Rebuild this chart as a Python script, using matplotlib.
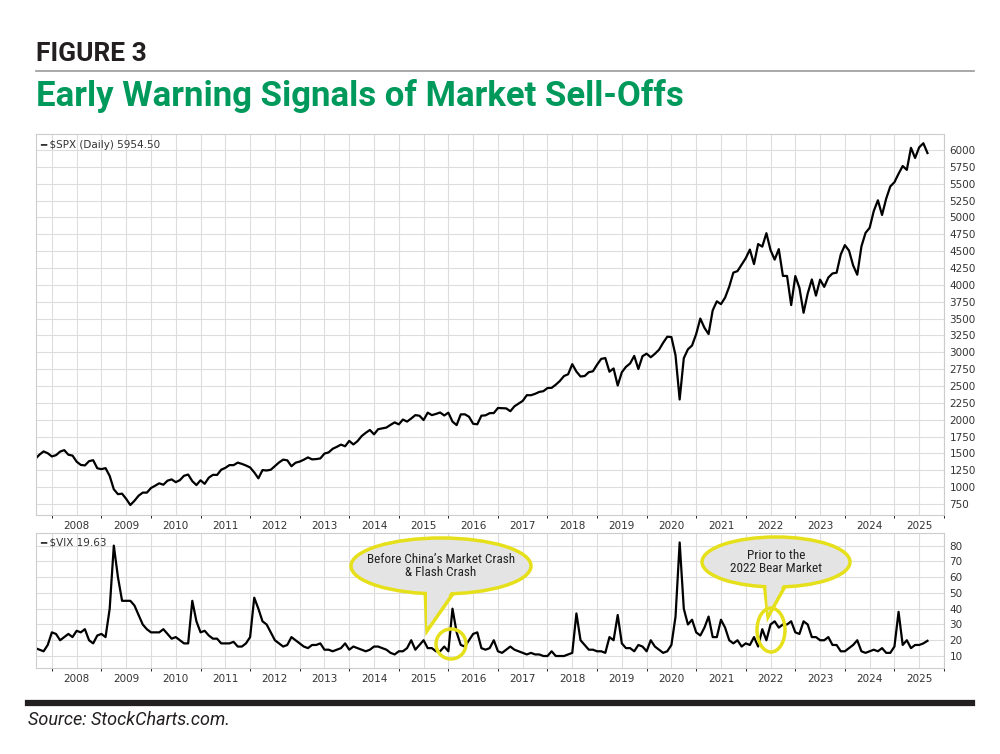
import numpy as np
import matplotlib
matplotlib.use("Agg")
import matplotlib.pyplot as plt
from matplotlib.patches import Ellipse, Polygon
from matplotlib import font_manager

# ---- data (monthly, from Mar 2007) ----
spx = [1420,1482,1530,1503,1455,1474,1527,1549,1481,1468,
 1378,1330,1322,1385,1400,1280,1267,1282,1166,968,896,903,
 826,735,798,873,919,919,987,1021,1057,1036,1096,1115,
 1074,1104,1169,1187,1089,1031,1102,1049,1141,1183,1181,1258,
 1286,1327,1326,1364,1345,1321,1292,1219,1131,1253,1247,1258,
 1312,1366,1408,1398,1310,1362,1379,1407,1441,1412,1416,1426,
 1498,1515,1569,1598,1631,1606,1686,1633,1682,1757,1806,1848,
 1783,1859,1872,1884,1924,1960,1931,2003,1972,2018,2068,2059,
 1995,2105,2068,2086,2107,2063,2104,1972,1920,2079,2080,2044,
 1940,1932,2060,2065,2097,2099,2174,2171,2168,2126,2199,2239,
 2279,2364,2363,2384,2412,2423,2470,2472,2519,2575,2648,2674,
 2824,2714,2641,2648,2705,2718,2816,2902,2914,2712,2760,2507,
 2704,2784,2834,2946,2752,2942,2980,2926,2977,3038,3141,3231,
 3226,2954,2300,2912,3044,3100,3271,3500,3363,3270,3622,3756,
 3714,3811,3973,4181,4204,4298,4395,4523,4308,4605,4567,4766,
 4516,4374,4530,4132,4132,3700,4130,3955,3586,3872,4080,3840,
 4077,3970,4109,4169,4180,4450,4589,4508,4288,4150,4568,4770,
 4846,5096,5254,5036,5278,5460,5522,5648,5762,5705,6032,5882,
 6040,6100,5954.5]
vix = [15,14,13,17,25,24,20,22,24,22,
 26,25,27,20,18,23,24,22,40,80,60,45,
 45,45,42,36,30,27,25,25,25,27,24,21,
 22,20,18,18,45,32,25,26,23,21,21,18,
 18,18,19,16,16,18,22,47,40,32,30,25,
 20,18,16,17,22,20,18,16,15,17,17,18,
 14,14,13,14,15,18,14,16,15,14,13,14,
 16,16,15,14,12,11,13,13,15,20,14,17,
 20,15,15,13,13,16,13,40,25,17,16,20,
 24,25,15,14,15,20,13,12,14,16,14,13,
 12,11,12,11,11,10,10,13,10,10,10,11,
 12,37,20,17,14,14,13,13,12,22,20,36,
 18,15,15,13,17,16,13,20,16,14,12,13,
 17,35,82,40,30,33,25,23,28,35,22,22,
 33,28,20,18,20,16,18,17,22,16,27,20,
 30,32,28,30,30,32,25,24,32,30,22,22,
 20,20,22,17,17,13,13,15,17,20,13,12,
 13,14,13,15,12,12,16,38,17,20,15,17,
 17,18,19.63]
t = 2007 + 2/12 + np.arange(len(spx)) / 12
years = list(range(2008, 2026))
spx_ticks = list(range(750, 6001, 250))
vix_ticks = [10, 20, 30, 40, 50, 60, 70, 80]

names = {f.name for f in font_manager.fontManager.ttflist}
narrow = [n for n in ["Liberation Sans Narrow", "Roboto Condensed"] if n in names] + ["Roboto"]

fig = plt.figure(figsize=(10, 7.54), dpi=100)
W, H = 1000, 754

def ax_at(l, t_, r, b):
    return fig.add_axes([l / W, 1 - b / H, (r - l) / W, (b - t_) / H])

ax1 = ax_at(36, 134, 944, 515)
ax2 = ax_at(36, 533, 944, 668)
xlim = (2007.18, 2025.27)
for ax in (ax1, ax2):
    ax.set_xlim(*xlim)
    ax.set_xticks(years)
    ax.set_xticks(np.arange(2007.5, 2025.6, 1.0), minor=True)
    ax.grid(True, which="both", axis="x", color="#dddddd", lw=0.8)
    ax.grid(True, axis="y", color="#dddddd", lw=0.8)
    ax.set_axisbelow(True)
    for s in ax.spines.values():
        s.set_color("#cccccc")
    ax.yaxis.tick_right()
    ax.tick_params(length=0, labelsize=7.5, colors="#333333", pad=4)
    ax.set_xticklabels([str(y) for y in years])

ax1.plot(t, spx, color="black", lw=1.6)
ax1.set_ylim(587, 6237)
ax1.set_yticks(spx_ticks)
ax1.set_yticklabels([str(v) for v in spx_ticks])
ax1.text(0.004, 0.985, "━ $SPX (Daily) 5954.50", transform=ax1.transAxes,
         fontsize=7.5, va="top", color="#333333")

ax2.plot(t, vix, color="black", lw=1.6)
ax2.set_ylim(2.4, 88)
ax2.set_yticks(vix_ticks)
ax2.set_yticklabels([str(v) for v in vix_ticks])
ax2.text(0.004, 0.97, "━ $VIX 19.63", transform=ax2.transAxes,
         fontsize=7.5, va="top", color="#333333")

# overlay in pixel coordinates
ov = fig.add_axes([0, 0, 1, 1])
ov.set_xlim(0, W); ov.set_ylim(H, 0); ov.axis("off")
yel = "#e6e01a"
def callout(cx, cy, w, h, tip, base_half, circ, text):
    ov.add_patch(Polygon([(cx - base_half, cy + h / 2 - 6), (cx + base_half, cy + h / 2 - 6), tip],
                         closed=True, fc="#e4e4e4", ec=yel, lw=2.5, zorder=5))
    ov.add_patch(Ellipse((cx, cy), w, h, fc="#e4e4e4", ec=yel, lw=2.5, zorder=6))
    ov.add_patch(Polygon([(cx - base_half + 2, cy + h / 2 - 8), (cx + base_half - 2, cy + h / 2 - 8), (tip[0], tip[1] - 4)],
                         closed=True, fc="#e4e4e4", ec="none", zorder=7))
    ov.add_patch(Ellipse(circ[:2], circ[2], circ[3], fc="none", ec=yel, lw=2.5, zorder=8))
    ov.text(cx, cy, text, ha="center", va="center", fontsize=9.5, family=narrow,
            zorder=9, linespacing=1.05, color="#222222")
callout(441, 566, 180, 56, (427, 631), 16, (451, 644, 30, 30),
        "Before China’s Market Crash\n& Flash Crash")
callout(776, 562, 148, 50, (768, 617), 12, (771, 630, 28, 44),
        "Prior to the\n2022 Bear Market")

# header / footer
fig.text(36 / W, 1 - 54 / H, "FIGURE 3", fontsize=19, fontweight="bold", family="Roboto",
         color="#231f20", va="center")
ov.plot([36, 974], [71, 71], color="#999999", lw=1.2)
fig.text(36 / W, 1 - 96 / H, "Early Warning Signals of Market Sell-Offs", fontsize=25,
         fontweight="bold", family="Roboto", color="#00995c", va="center")
ov.plot([28, 972], [703, 703], color="#231f20", lw=4.5)
fig.text(28 / W, 1 - 720 / H, "Source: StockCharts.com.", fontsize=13, style="italic",
         family="Roboto", color="#231f20", va="center")

fig.savefig("out.png", dpi=100)
